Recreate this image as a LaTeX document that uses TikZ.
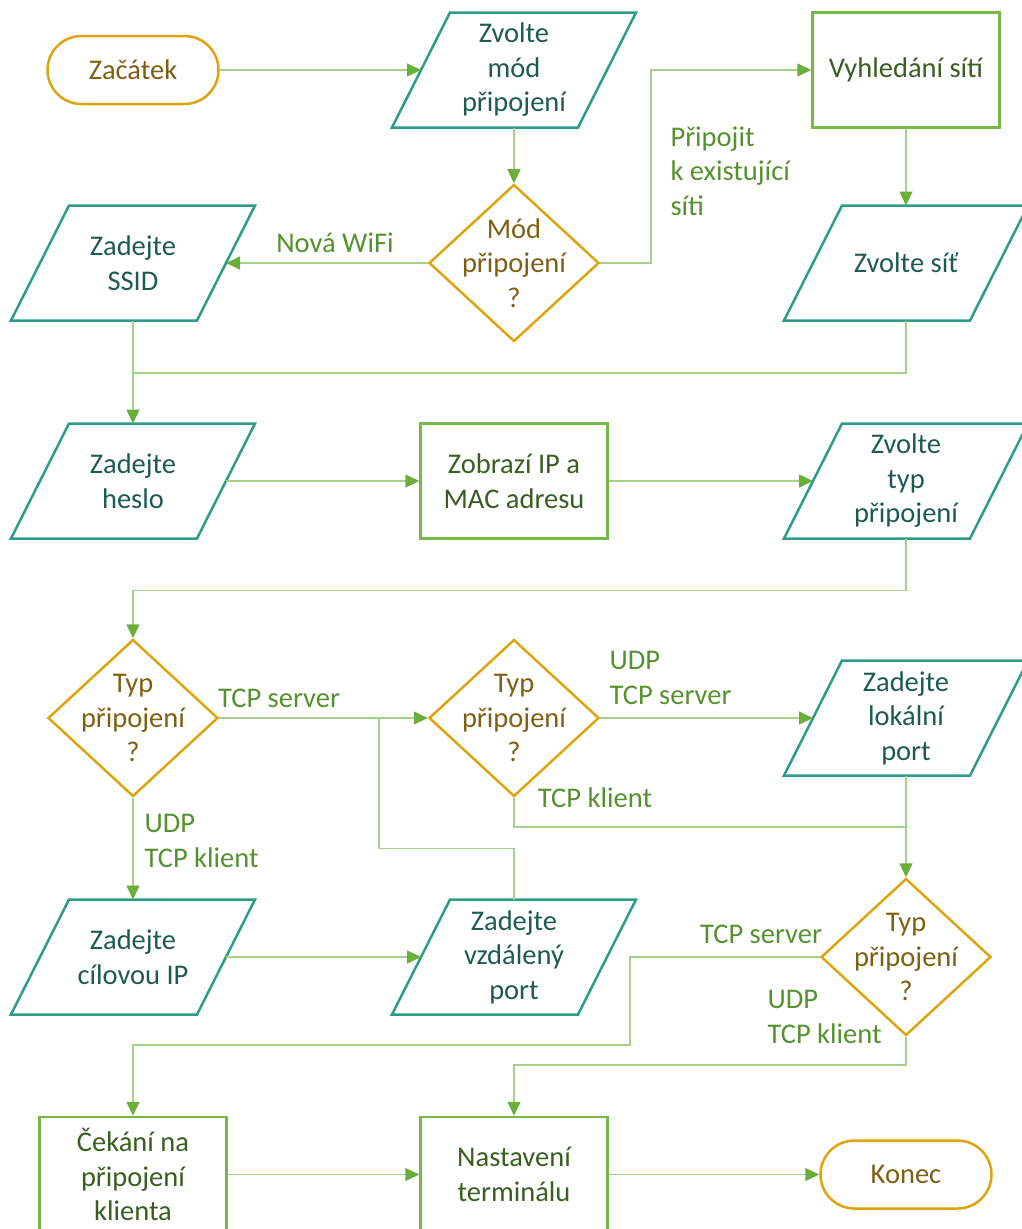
\documentclass[tikz,border=0pt]{standalone}
\usepackage{fontspec}
\setmainfont{Carlito}
\usetikzlibrary{shapes.geometric,arrows.meta}

\definecolor{goldline}{HTML}{DFA30E}
\definecolor{browntext}{HTML}{7F5F10}
\definecolor{tealline}{HTML}{2D9C88}
\definecolor{tealtext}{HTML}{1D5B50}
\definecolor{procline}{HTML}{76B947}
\definecolor{proctext}{HTML}{3A5E22}
\definecolor{connline}{HTML}{A6D18A}
\definecolor{arrowgreen}{HTML}{6AAF3A}
\definecolor{lbltext}{HTML}{56912F}

\begin{document}
\begin{tikzpicture}[x=1pt,y=-1pt,
  font=\fontsize{28.5pt}{34.5pt}\selectfont,
  term/.style={rectangle, rounded corners=34pt, draw=goldline, line width=2.5pt,
    minimum width=171pt, minimum height=68pt, text=browntext, inner sep=0pt},
  % input/output box: a slanted outline around a plain rectangular node
  para/.style={rectangle, minimum width=186pt, minimum height=115pt,
    inner sep=0pt, outer sep=0pt, text=tealtext, align=center,
    append after command={\pgfextra{%
      \draw[tealline, line width=2.5pt, line join=miter]
        ([xshift=29pt]\tikzlastnode.north west) --
        ([xshift=29pt]\tikzlastnode.north east) --
        ([xshift=-29pt]\tikzlastnode.south east) --
        ([xshift=-29pt]\tikzlastnode.south west) -- cycle;}}},
  proc/.style={rectangle, draw=procline, line width=2.5pt, minimum width=187pt,
    minimum height=115pt, text=proctext, align=center, inner sep=0pt},
  dec/.style={diamond, draw=goldline, line width=2.5pt, minimum width=170pt,
    minimum height=157pt, inner sep=0pt},
  dectext/.style={text=browntext, align=center},
  conn/.style={draw=connline, line width=1.5pt,
    -{Triangle[length=14pt,width=13pt,color=arrowgreen]}},
  link/.style={draw=connline, line width=1.5pt},
  lbl/.style={text=lbltext, align=left}]

\useasboundingbox (0,0) rectangle (1022,1229);

% first rows
\node[term] (start) at (133,70) {Začátek};
\node[para] (zmod) at (514,70) {Zvolte\\mód\\připojení};
\node[proc] (vyhl) at (906,70) {Vyhledání sítí};
\node[dec, label={[dectext]center:Mód\\připojení\\?}] (mod) at (514,263) {};
\node[para] (ssid) at (133,263) {Zadejte\\SSID};
\node[para] (sit) at (906,263) {Zvolte síť};

\node[para] (heslo) at (133,481) {Zadejte\\heslo};
\node[proc] (zobr) at (514,481) {Zobrazí IP a\\MAC adresu};
\node[para] (typ) at (906,481) {Zvolte\\typ\\připojení};

% connection type decisions
\node[dec, label={[dectext]center:Typ\\připojení\\?}] (d1) at (133,718) {};
\node[dec, label={[dectext]center:Typ\\připojení\\?}] (d2) at (514,718) {};
\node[para] (lok) at (906,718) {Zadejte\\lokální\\port};
\node[para] (cil) at (133,957) {Zadejte\\cílovou IP};
\node[para] (vport) at (514,957) {Zadejte\\vzdálený\\port};
\node[dec, label={[dectext]center:Typ\\připojení\\?}] (d3) at (906,957) {};

% last row
\node[proc] (cek) at (133,1174.5) {Čekání na\\připojení\\klienta};
\node[proc] (nast) at (514,1174.5) {Nastavení\\terminálu};
\node[term] (konec) at (906,1174.5) {Konec};

% junction points
\coordinate (j1) at (651,263);
\coordinate (j2) at (133,373);
\coordinate (j3) at (379,718);
\coordinate (j4) at (906,827);
\coordinate (k1) at (630,1045);
\coordinate (k2) at (906,1065);

% connectors
\draw[conn] (start) -- (zmod);
\draw[conn] (zmod) -- (mod);
\draw[conn] (mod) -- (ssid);
\draw[conn] (mod.east) -- (j1) |- (vyhl.west);
\draw[conn] (vyhl) -- (sit);
\draw[link] (sit.south) |- (j2);
\draw[conn] (ssid.south) -- (heslo.north);
\draw[conn] (heslo) -- (zobr);
\draw[conn] (zobr) -- (typ);
\draw[conn] (typ.south) -- ++(0,52) -| (d1.north);
\draw[conn] (d1) -- (d2);
\draw[link] (vport.north) -- ++(0,-51) -| (j3);
\draw[conn] (d1) -- (cil);
\draw[conn] (d2) -- (lok);
\draw[link] (d2.south) |- (j4);
\draw[conn] (lok) -- (d3);
\draw[conn] (cil) -- (vport);
\draw[conn] (d3.west) -| (k1) -| (cek.north);
\draw[conn] (d3.south) -- (k2) -| (nast.north);
\draw[conn] (cek) -- (nast);
\draw[conn] (nast) -- (konec);

% branch labels
\node[lbl] (l1) at (335,243) {Nová WiFi};
\node[lbl, anchor=west] (l2) at (667,171) {Připojit\\k existující\\síti};
\node[lbl] (l3) at (279,698) {TCP server};
\node[lbl, anchor=west] (l4) at (141,841) {UDP\\TCP klient};
\node[lbl, anchor=west] (l5) at (606,678) {UDP\\TCP server};
\node[lbl] (l6) at (595,798) {TCP klient};
\node[lbl] (l7) at (761,934) {TCP server};
\node[lbl, anchor=west] (l8) at (764,1017) {UDP\\TCP klient};
\end{tikzpicture}
\end{document}
